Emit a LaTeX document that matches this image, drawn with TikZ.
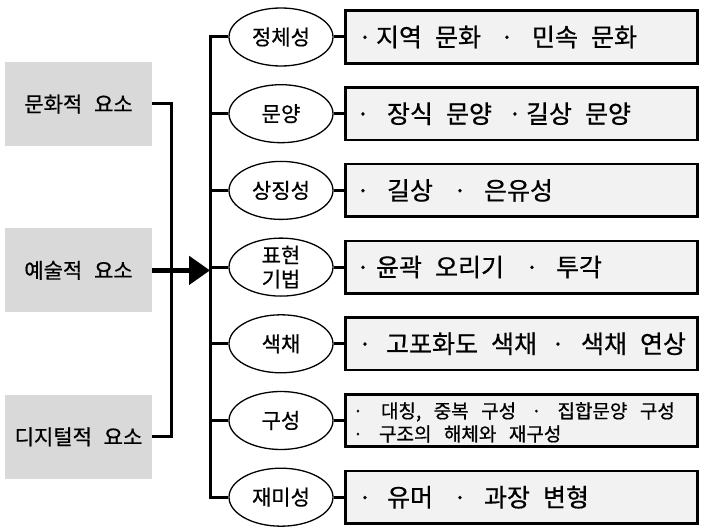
\documentclass[tikz,border=0pt]{standalone}
\usepackage{fontspec}
\setmainfont[WordSpace=2.5, FakeBold=0.6]{Noto Sans CJK KR}
\usetikzlibrary{arrows.meta,positioning,shapes.geometric}
\definecolor{elemgray}{HTML}{D9D9D9}
\definecolor{itemgray}{HTML}{F2F2F2}
\newcommand{\dotmark}[1][6pt]{\hbox to #1{\hss·\hss}}

\begin{document}
\begin{tikzpicture}[
  x=1pt, y=-1pt,
  element/.style={fill=elemgray, minimum width=147pt, minimum height=84pt,
                  font=\fontsize{21}{25}\selectfont},
  trait/.style={draw, ellipse, line width=1.3pt, minimum width=104pt, minimum height=58pt,
                inner sep=0pt, align=center, font=\fontsize{21}{24}\selectfont},
  items/.style={draw, line width=2.6pt, fill=itemgray, minimum height=52.5pt,
                text width=336pt, inner xsep=8pt, align=left,
                font=\fontsize{25}{29}\selectfont},
  link/.style={line width=3pt},
]
\useasboundingbox (0,0) rectangle (705,532);

% three kinds of element on the left
\node[element] (cult) at (78.5,104) {문화적 요소};
\node[element, below=82pt of cult] (art) {예술적 요소};
\node[element, below=82pt of art] (digi) {디지털적 요소};

% bus lines
\coordinate (lbus) at (171,0);
\coordinate (rbus) at (210,0);

% traits
\node[trait] (ident) at (281,37) {정체성};
\node[trait, below=17.4pt of ident] (pattern) {문양};
\node[trait, below=17.4pt of pattern] (symbol) {상징성};
\node[trait, below=17.4pt of symbol, inner ysep=-3pt] (tech) {표현\\기법};
\node[trait, below=17.4pt of tech] (colour) {색채};
\node[trait, below=17.4pt of colour] (comp) {구성};
\node[trait, below=17.4pt of comp] (fun) {재미성};

% what each trait covers
\node[items, right=10.4pt of ident] (identx)
  {\spaceskip=13pt\hspace*{8.7pt}\dotmark\hspace{8pt}지역 문화\hspace{23pt}\dotmark\hspace{22pt}민속 문화};
\node[items, right=10.4pt of pattern] (patternx)
  {\spaceskip=13pt\hspace*{6.7pt}\dotmark\hspace{21pt}장식 문양\hspace{20pt}\dotmark\hspace{8pt}길상 문양};
\node[items, right=10.4pt of symbol] (symbolx)
  {\spaceskip=13pt\hspace*{6.7pt}\dotmark\hspace{21pt}길상\hspace{24pt}\dotmark\hspace{21pt}은유성};
\node[items, right=10.4pt of tech] (techx)
  {\spaceskip=13pt\hspace*{6.7pt}\dotmark\hspace{10pt}윤곽 오리기\hspace{25pt}\dotmark\hspace{21pt}투각};
\node[items, right=10.4pt of colour] (colourx)
  {\spaceskip=13pt\mbox{\hspace*{8.7pt}\dotmark\hspace{18pt}고포화도 색채\hspace{18pt}\dotmark\hspace{20pt}색채 연상}};
\node[items, right=10.4pt of comp, inner ysep=0pt, text height=19pt, text depth=24pt,
      font=\fontsize{19}{23}\selectfont] (compx)
  {\spaceskip=12.5pt\hspace*{2.2pt}\dotmark[5pt]\hspace{20.5pt}대칭, 중복 구성\hspace{17.8pt}\dotmark[5pt]\hspace{18.5pt}집합문양 구성\\
   \hspace*{2.2pt}\dotmark[5pt]\hspace{18.5pt}구조의 해체와 재구성};
\node[items, right=10.4pt of fun] (funx)
  {\spaceskip=13pt\hspace*{8.7pt}\dotmark\hspace{19pt}유머\hspace{24pt}\dotmark\hspace{21pt}과장 변형};

% left elements joined, arrow into the traits
\draw[link] (cult.east) -- (cult.east -| lbus) -- (digi.east -| lbus) -- (digi.east);
\draw[line width=5pt, -{Triangle[length=21pt,width=28pt]}] (art.east) -- (art.east -| rbus);

% bus to each trait
\draw[link] (ident.west) -- (ident.west -| rbus) -- (fun.west -| rbus) -- (fun.west);
\draw[link] (pattern.west) -- (pattern.west -| rbus);
\draw[link] (symbol.west) -- (symbol.west -| rbus);
\draw[link] (tech.west) -- (tech.west -| rbus);
\draw[link] (colour.west) -- (colour.west -| rbus);
\draw[link] (comp.west) -- (comp.west -| rbus);

% trait to its items
\draw[link] (ident.east) -- (identx.west);
\draw[link] (pattern.east) -- (patternx.west);
\draw[link] (symbol.east) -- (symbolx.west);
\draw[link] (tech.east) -- (techx.west);
\draw[link] (colour.east) -- (colourx.west);
\draw[link] (comp.east) -- (compx.west);
\draw[link] (fun.east) -- (funx.west);
\end{tikzpicture}
\end{document}
